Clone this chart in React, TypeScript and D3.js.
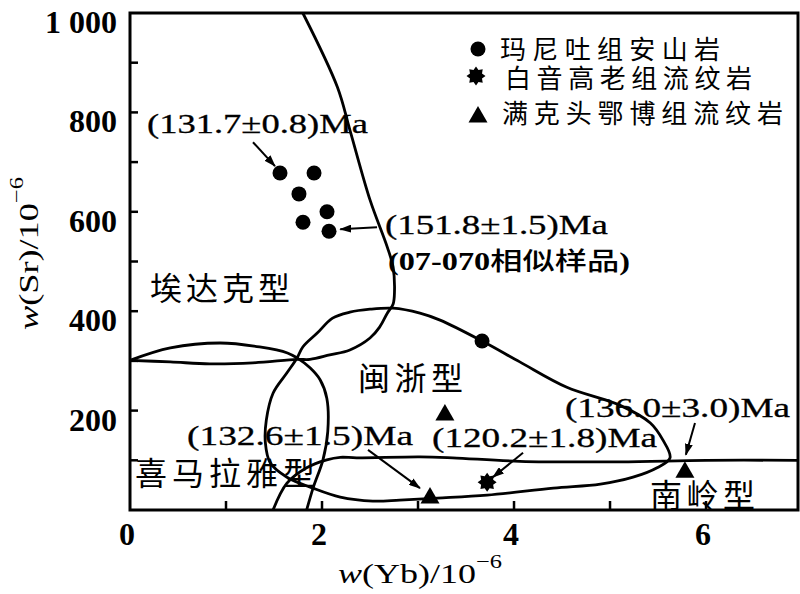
import React from 'react';
import * as d3 from 'd3';

const W = 800;
const H = 594;

// axis ticks
const xTicks = [1, 2, 3, 4, 5, 6];
const xTickLabels = [0, 2, 4, 6];
const yTicks = [100, 200, 300, 400, 500, 600, 700, 800, 900];
const yTickLabels = [200, 400, 600, 800, 1000];
const yTickText = ['200', '400', '600', '800', '1 000'];

// boundary curves (Yb, Sr)
const adakiteBoundary: [number, number][] = [
  [1.80, 1000], [2.16, 851], [2.29, 765], [2.50, 624], [2.68, 529], [2.74, 489],
  [2.755, 440], [2.74, 414], [2.68, 396], [2.60, 368], [2.50, 346], [2.29, 322],
  [2.08, 312], [1.875, 303], [1.74, 303], [1.28, 296], [0.83, 294], [0.42, 298], [0, 301],
];
const himalayaEye: [number, number][] = [
  [0, 301], [0.42, 326], [0.94, 336], [1.35, 328], [1.64, 316], [1.74, 306],
  [1.875, 286], [1.98, 262], [2.05, 225], [2.06, 158], [2.01, 101], [1.91, 46], [1.84, 0],
];
const minZheLoop: [number, number][] = [
  [1.74, 306], [1.80, 328], [1.95, 356], [2.11, 386], [2.29, 398], [2.50, 404],
  [2.74, 406], [3.02, 396], [3.23, 382], [3.667, 340], [4.06, 298], [4.55, 247],
  [5.10, 211], [5.42, 175], [5.55, 141], [5.625, 105], [5.49, 85], [5.24, 66],
  [4.90, 52], [4.41, 44], [3.72, 30], [3.20, 24], [2.81, 20], [2.53, 18],
  [2.19, 26], [1.906, 44], [1.635, 66], [1.46, 95], [1.41, 135], [1.42, 181],
  [1.49, 235], [1.635, 276],
];
const nanlingBoundary: [number, number][] = [
  [1.49, 0], [1.635, 54], [1.84, 85], [2.05, 101], [2.19, 106], [2.36, 105],
  [3.02, 107], [3.36, 105], [4.06, 98], [5.10, 97], [6.0, 100], [6.958, 100],
];

// samples
const maniTuYb = [1.5625, 1.917, 1.76, 2.052, 1.802, 2.073, 3.667];
const maniTuSr = [678, 678, 636, 600, 579, 561, 340];
const baiyinYb = [3.72];
const baiyinSr = [56];
const mankeYb = [3.28, 3.125, 5.78];
const mankeSr = [195, 28, 80];

// legend
const legendNames = ['玛尼吐组安山岩', '白音高老组流纹岩', '满克头鄂博组流纹岩'];

// region labels
const regionNames = ['埃达克型', '闽浙型', '喜马拉雅型', '南岭型'];
const regionYb = [0.208, 2.375, 0.052, 5.417];
const regionSr = [422, 241, 50, 6];

// age annotations
const ageTexts = ['(131.7±0.8)Ma', '(151.8±1.5)Ma', '(132.6±1.5)Ma', '(120.2±1.8)Ma', '(136.0±3.0)Ma'];
const ageYb = [0.177, 2.656, 0.594, 3.146, 4.531];
const ageSr = [758, 555, 131, 127, 187];

// arrows: from -> to
const arrowFrom: [number, number][] = [[1.281, 740], [2.573, 569], [2.479, 121], [4.094, 115], [5.885, 175]];
const arrowTo: [number, number][] = [[1.51, 692], [2.19, 565], [3.02, 44], [3.78, 66], [5.79, 111]];

const x = d3.scaleLinear().domain([0, 6.958]).range([130, 798]);
const y = d3.scaleLinear().domain([0, 1000]).range([510, 13]);

const lineOpen = d3.line<[number, number]>()
  .x((d) => x(d[0]))
  .y((d) => y(d[1]))
  .curve(d3.curveCatmullRom.alpha(0.5));
const lineClosed = d3.line<[number, number]>()
  .x((d) => x(d[0]))
  .y((d) => y(d[1]))
  .curve(d3.curveCatmullRomClosed.alpha(0.5));

const SERIF = '"Liberation Serif", "Times New Roman", serif';
const CJK = '"Noto Sans CJK SC", sans-serif';

function starPath(ro: number, ri: number, n: number) {
  const pts: [number, number][] = [];
  for (let i = 0; i < n * 2; i++) {
    const r = i % 2 === 0 ? ro : ri;
    const a = (Math.PI * i) / n - Math.PI / 2;
    pts.push([r * Math.cos(a), r * Math.sin(a)]);
  }
  return 'M' + pts.map((p) => p.join(',')).join('L') + 'Z';
}
const triPath = 'M0,-9L9.5,7.5L-9.5,7.5Z';
const star = starPath(9.5, 6.5, 8);

export default function App() {
  const regionW = [140, 105, 180, 105];
  const ageW = [221, 223, 226, 225, 225];
  return (
    <svg width={W} height={H} style={{ position: 'absolute', left: 0, top: 0, background: '#fff' }}>
      <defs>
        <marker id="ah" viewBox="0 0 12 8" refX="11" refY="4" markerWidth="12" markerHeight="8"
          markerUnits="userSpaceOnUse" orient="auto">
          <path d="M0,0L12,4L0,8Z" fill="#000" />
        </marker>
      </defs>
      <rect x={0} y={0} width={W} height={H} fill="#fff" />

      {/* curves */}
      <g fill="none" stroke="#000" strokeWidth={2.8} strokeLinejoin="round">
        <path d={lineOpen(adakiteBoundary) || ''} />
        <path d={lineOpen(himalayaEye) || ''} />
        <path d={lineClosed(minZheLoop) || ''} />
        <path d={lineOpen(nanlingBoundary) || ''} />
      </g>

      {/* frame */}
      <rect x={x(0)} y={y(1000)} width={x(6.958) - x(0)} height={y(0) - y(1000)}
        fill="none" stroke="#000" strokeWidth={3} />

      {/* ticks */}
      <g stroke="#000" strokeWidth={2.5}>
        {xTicks.map((v) => (
          <line key={'xt' + v} x1={x(v)} x2={x(v)} y1={y(0)} y2={y(0) - 9} />
        ))}
        {yTicks.map((v) => (
          <line key={'yt' + v} x1={x(0)} x2={x(0) + 8} y1={y(v)} y2={y(v)} />
        ))}
      </g>
      <g fontFamily={SERIF} fontWeight="bold" fontSize={32} fill="#000">
        {xTickLabels.map((v) => (
          <text key={'xl' + v} x={x(v) - 3} y={545} textAnchor="middle">{v}</text>
        ))}
        {yTickLabels.map((v, i) => (
          <text key={'yl' + v} x={117} y={y(v) + 20} textAnchor="end">{yTickText[i]}</text>
        ))}
      </g>

      {/* axis titles */}
      <text x={338} y={583} fontFamily={SERIF} fontSize={28} textLength={164} lengthAdjust="spacingAndGlyphs">
        <tspan fontStyle="italic">w</tspan>(Yb)/10<tspan fontSize={19} dy={-15}>−6</tspan>
      </text>
      <text transform="translate(38,330) rotate(-90)" fontFamily={SERIF} fontSize={28}
        textLength={153} lengthAdjust="spacingAndGlyphs">
        <tspan fontStyle="italic">w</tspan>(Sr)/10<tspan fontSize={19} dy={-15}>−6</tspan>
      </text>

      {/* region labels */}
      <g fontFamily={CJK} fontSize={32} fill="#000">
        {regionNames.map((t, i) => (
          <text key={t} x={x(regionYb[i])} y={y(regionSr[i])} textLength={regionW[i]} lengthAdjust="spacing">{t}</text>
        ))}
      </g>

      {/* arrows */}
      <g stroke="#000" strokeWidth={2}>
        {arrowFrom.map((f, i) => (
          <line key={'ar' + i} x1={x(f[0])} y1={y(f[1])} x2={x(arrowTo[i][0])} y2={y(arrowTo[i][1])}
            markerEnd="url(#ah)" />
        ))}
      </g>

      {/* age annotations */}
      <g fontFamily={SERIF} fontSize={28} fill="#000" stroke="#000" strokeWidth={0.3}>
        {ageTexts.map((t, i) => (
          <text key={t} x={x(ageYb[i])} y={y(ageSr[i])} textLength={ageW[i]} lengthAdjust="spacingAndGlyphs">{t}</text>
        ))}
      </g>
      <text x={x(2.6875)} y={y(483)} textLength={242} lengthAdjust="spacingAndGlyphs" fill="#000">
        <tspan fontFamily={SERIF} fontWeight="bold" fontSize={25}>(07-070</tspan>
        <tspan fontFamily={CJK} fontSize={25} fontWeight="500">相似样品</tspan>
        <tspan fontFamily={SERIF} fontWeight="bold" fontSize={25}>)</tspan>
      </text>

      {/* points */}
      <g fill="#000">
        {maniTuYb.map((v, i) => (
          <circle key={'m' + i} cx={x(v)} cy={y(maniTuSr[i])} r={7.5} />
        ))}
        {baiyinYb.map((v, i) => (
          <path key={'b' + i} d={star} transform={`translate(${x(v)},${y(baiyinSr[i])})`} />
        ))}
        {mankeYb.map((v, i) => (
          <path key={'k' + i} d={triPath} transform={`translate(${x(v)},${y(mankeSr[i])})`} />
        ))}
      </g>

      {/* legend */}
      <g transform="translate(478,0)">
        <circle cx={0} cy={49} r={7.5} fill="#000" />
        <path d={star} transform="translate(-2,76)" fill="#000" />
        <path d={triPath} transform="translate(0,115)" fill="#000" />
        <g fontFamily={CJK} fontSize={26} fill="#000">
          <text x={22} y={59} textLength={220} lengthAdjust="spacing">{legendNames[0]}</text>
          <text x={27} y={88} textLength={247} lengthAdjust="spacing">{legendNames[1]}</text>
          <text x={24} y={123} textLength={281} lengthAdjust="spacing">{legendNames[2]}</text>
        </g>
      </g>
    </svg>
  );
}
